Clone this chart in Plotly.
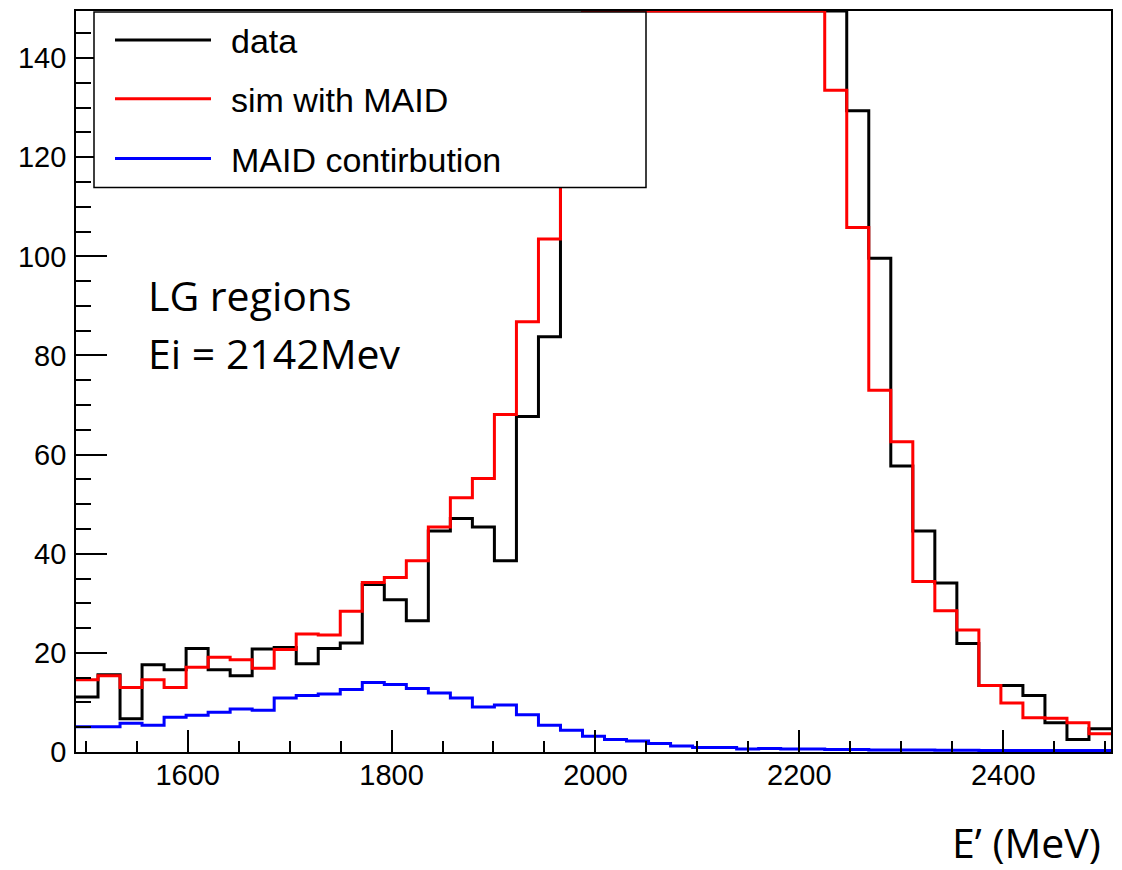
import numpy as np
import plotly.graph_objects as go

# ---------------- data ----------------
bin_start = 1490.5
bin_width = 21.6
n_bins = 47

# "data" histogram (values >= 150 are off-scale / clipped at frame top)
data_counts = [11.1, 15.6, 6.7, 17.6, 16.6, 20.9, 16.6, 15.4, 20.8, 21.1,
               17.8, 20.9, 22.0, 33.8, 30.7, 26.5, 44.6, 47.1, 45.4, 38.6,
               67.7, 83.8, 130, 150, 150, 150, 150, 150, 150, 150,
               150, 150, 150, 150, 150, 129.4, 99.6, 57.7, 44.6, 34.1,
               21.9, 13.4, 13.4, 11.4, 5.9, 2.5, 4.7]

sim_counts = [14.6, 15.4, 13.0, 14.6, 13.0, 17.1, 19.1, 18.6, 16.9, 20.7,
              23.8, 23.6, 28.4, 34.2, 35.2, 38.6, 45.4, 51.3, 55.2, 68.1,
              86.8, 103.5, 135, 150, 150, 150, 150, 150, 150, 150,
              150, 150, 150, 150, 133.5, 105.8, 73.0, 62.6, 34.4, 28.5,
              24.6, 13.4, 9.9, 6.9, 6.8, 5.9, 3.7]

maid_counts = [5.1, 5.1, 5.8, 5.4, 7.0, 7.4, 8.0, 8.7, 8.4, 10.9,
               11.4, 11.7, 12.6, 14.0, 13.6, 12.8, 11.9, 10.9, 9.1, 9.5,
               7.5, 5.4, 4.4, 3.2, 2.5, 2.2, 1.7, 1.2, 0.9, 0.9,
               0.6, 0.7, 0.6, 0.6, 0.5, 0.5, 0.4, 0.4, 0.4, 0.35, 0.35,
               0.3, 0.3, 0.3, 0.3, 0.3, 0.3]

series_names = ["data", "sim with MAID", "MAID contirbution"]
series_colors = ["#000000", "#ff0000", "#0000ff"]

x_ticks = [1600, 1800, 2000, 2200, 2400]
y_ticks = [0, 20, 40, 60, 80, 100, 120, 140]

YMAX = 149.5

# ---------------- figure ----------------
edges = bin_start + bin_width * np.arange(n_bins + 1)
W, H = 1122, 870
ML, MR, MT, MB = 76, 11, 9, 118
PW, PH = W - ML - MR, H - MT - MB


def px(xp):
    return (xp - ML) / PW


def py(yp):
    return (H - MB - yp) / PH


fig = go.Figure()
for counts, name, col in zip([data_counts, sim_counts, maid_counts], series_names, series_colors):
    v = np.minimum(np.array(counts, dtype=float), YMAX)
    fig.add_trace(go.Scatter(
        x=edges, y=np.append(v, v[-1]), mode="lines", name=name,
        line=dict(color=col, width=3, shape="hv"), showlegend=False,
        hoverinfo="skip"))

tickfont = dict(family="Liberation Sans, Arial, sans-serif", size=29, color="black")

fig.update_xaxes(range=[edges[0], edges[-1]], tickvals=x_ticks,
                 ticks="inside", ticklen=22, tickwidth=1.5, tickcolor="black",
                 minor=dict(dtick=50, tick0=0, ticks="inside", ticklen=11, tickwidth=1.5, tickcolor="black"),
                 showline=True, linecolor="black", linewidth=1.8, mirror=True,
                 showgrid=False, zeroline=False, tickfont=tickfont, ticklabelstandoff=-4)
fig.update_yaxes(range=[0, YMAX], tickvals=y_ticks,
                 ticks="inside", ticklen=31, tickwidth=1.5, tickcolor="black",
                 minor=dict(dtick=5, tick0=0, ticks="inside", ticklen=15, tickwidth=1.5, tickcolor="black"),
                 showline=True, linecolor="black", linewidth=1.8, mirror=True,
                 showgrid=False, zeroline=False, tickfont=tickfont, ticklabelstandoff=2)

# ---------------- manual legend (ROOT-style) ----------------
shapes = [dict(type="rect", xref="paper", yref="paper", x0=px(94), x1=px(646), y0=py(186), y1=py(10),
               fillcolor="white", line=dict(color="black", width=1.5), layer="above")]
annotations = []
row_y = [38, 97, 157]
legfont = dict(family="Liberation Sans, Arial, sans-serif", size=34, color="black")
for name, col, ry in zip(series_names, series_colors, row_y):
    shapes.append(dict(type="line", xref="paper", yref="paper", x0=px(115), x1=px(211), y0=py(ry), y1=py(ry),
                       line=dict(color=col, width=3), layer="above"))
    annotations.append(dict(text=name, xref="paper", yref="paper", x=px(229), y=py(ry + 1),
                            xanchor="left", yanchor="middle", showarrow=False, font=legfont))

txtfont = dict(family="Open Sans, sans-serif", size=41, color="black")
annotations.append(dict(text="LG regions", xref="paper", yref="paper", x=px(146), y=py(294),
                        xanchor="left", yanchor="middle", showarrow=False, font=txtfont))
annotations.append(dict(text="Ei = 2142Mev", xref="paper", yref="paper", x=px(146), y=py(352),
                        xanchor="left", yanchor="middle", showarrow=False, font=txtfont))
txtfont2 = dict(family="Open Sans, sans-serif", size=41, color="black")
annotations.append(dict(text="E\u2019 (MeV)", xref="paper", yref="paper", x=px(1103), y=py(842),
                        xanchor="right", yanchor="middle", showarrow=False, font=txtfont2))

fig.update_layout(width=W, height=H, margin=dict(l=ML, r=MR, t=MT, b=MB),
                  paper_bgcolor="white", plot_bgcolor="white",
                  shapes=shapes, annotations=annotations, showlegend=False)

fig.write_html("out.html")
